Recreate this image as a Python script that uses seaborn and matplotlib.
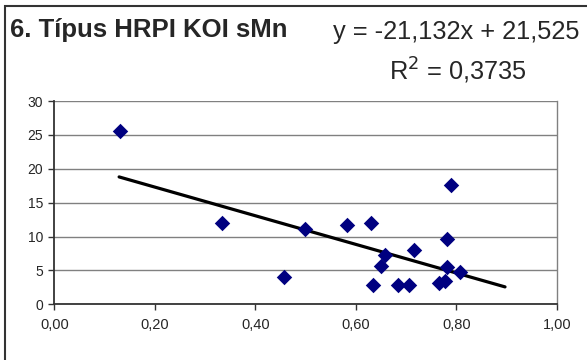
import numpy as np
import pandas as pd
import matplotlib
matplotlib.use("Agg")
import matplotlib.pyplot as plt
import seaborn as sns
from matplotlib.patches import Rectangle

# values
x_vals = [0.131, 0.333, 0.458, 0.498, 0.582, 0.630, 0.635, 0.650, 0.658,
          0.685, 0.706, 0.715, 0.765, 0.778, 0.781, 0.782, 0.790, 0.807]
y_vals = [25.6, 12.0, 4.1, 11.1, 11.7, 12.0, 2.9, 5.6, 7.35,
          2.9, 2.9, 8.0, 3.2, 3.4, 9.7, 5.45, 17.6, 4.7]

# trend line as printed on the chart
slope = -21.132
intercept = 21.525
trend_x = [0.129, 0.897]

title = "6. Típus HRPI KOI sMn"
x_ticks = [0.0, 0.2, 0.4, 0.6, 0.8, 1.0]
y_ticks = [0, 5, 10, 15, 20, 25, 30]

df = pd.DataFrame({"x": x_vals, "y": y_vals})
df_trend = pd.DataFrame({"x": trend_x, "y": [slope * v + intercept for v in trend_x]})

sns.set_style("white")
plt.rcParams["font.family"] = ["Liberation Sans", "DejaVu Sans"]

fig = plt.figure(figsize=(5.87, 3.6), dpi=100)
ax = fig.add_axes([0.0925, 0.1547, 0.8560, 0.5647])

ax.yaxis.grid(True, color="#808080", linewidth=1.0)
ax.set_axisbelow(True)

sns.lineplot(data=df_trend, x="x", y="y", ax=ax, color="black", linewidth=2.3, zorder=2)
sns.scatterplot(data=df, x="x", y="y", ax=ax, marker="D", s=62, color="#000080",
                edgecolor="#000080", linewidth=0, zorder=3)

ax.set_xlim(0, 1)
ax.set_ylim(0, 30)
ax.set_xticks(x_ticks)
ax.set_yticks(y_ticks)
ax.set_xticklabels([f"{v:.2f}".replace(".", ",") for v in x_ticks], fontsize=10.5)
ax.set_yticklabels([str(v) for v in y_ticks], fontsize=10)
ax.tick_params(axis="both", direction="out", length=4, width=1, color="#333333",
               bottom=True, left=True)
ax.tick_params(axis="x", pad=6)
ax.tick_params(axis="y", pad=4)
ax.set_xlabel("")
ax.set_ylabel("")

for side in ["left", "bottom"]:
    ax.spines[side].set_color("#333333")
    ax.spines[side].set_linewidth(1.3)
ax.spines["right"].set_color("#808080")
ax.spines["right"].set_linewidth(1.0)
ax.spines["top"].set_visible(False)

# outer chart frame
fig.patches.append(Rectangle((5 / 587, -0.1), 1.2, 1 - 6 / 360 + 0.1, transform=fig.transFigure,
                             fill=False, edgecolor="#333333", linewidth=1.5))

fig.text(10 / 587, 1 - 37 / 360, title, fontsize=18.5, fontweight="bold", ha="left", va="baseline")
fig.text(456 / 587, 1 - 39 / 360, "y = -21,132x + 21,525", fontsize=18.3, ha="center", va="baseline")
fig.text(458 / 587, 1 - 80 / 360, "R$^{2}$ = 0,3735", fontsize=18.3, ha="center", va="baseline")

fig.savefig("out.png", dpi=100)
